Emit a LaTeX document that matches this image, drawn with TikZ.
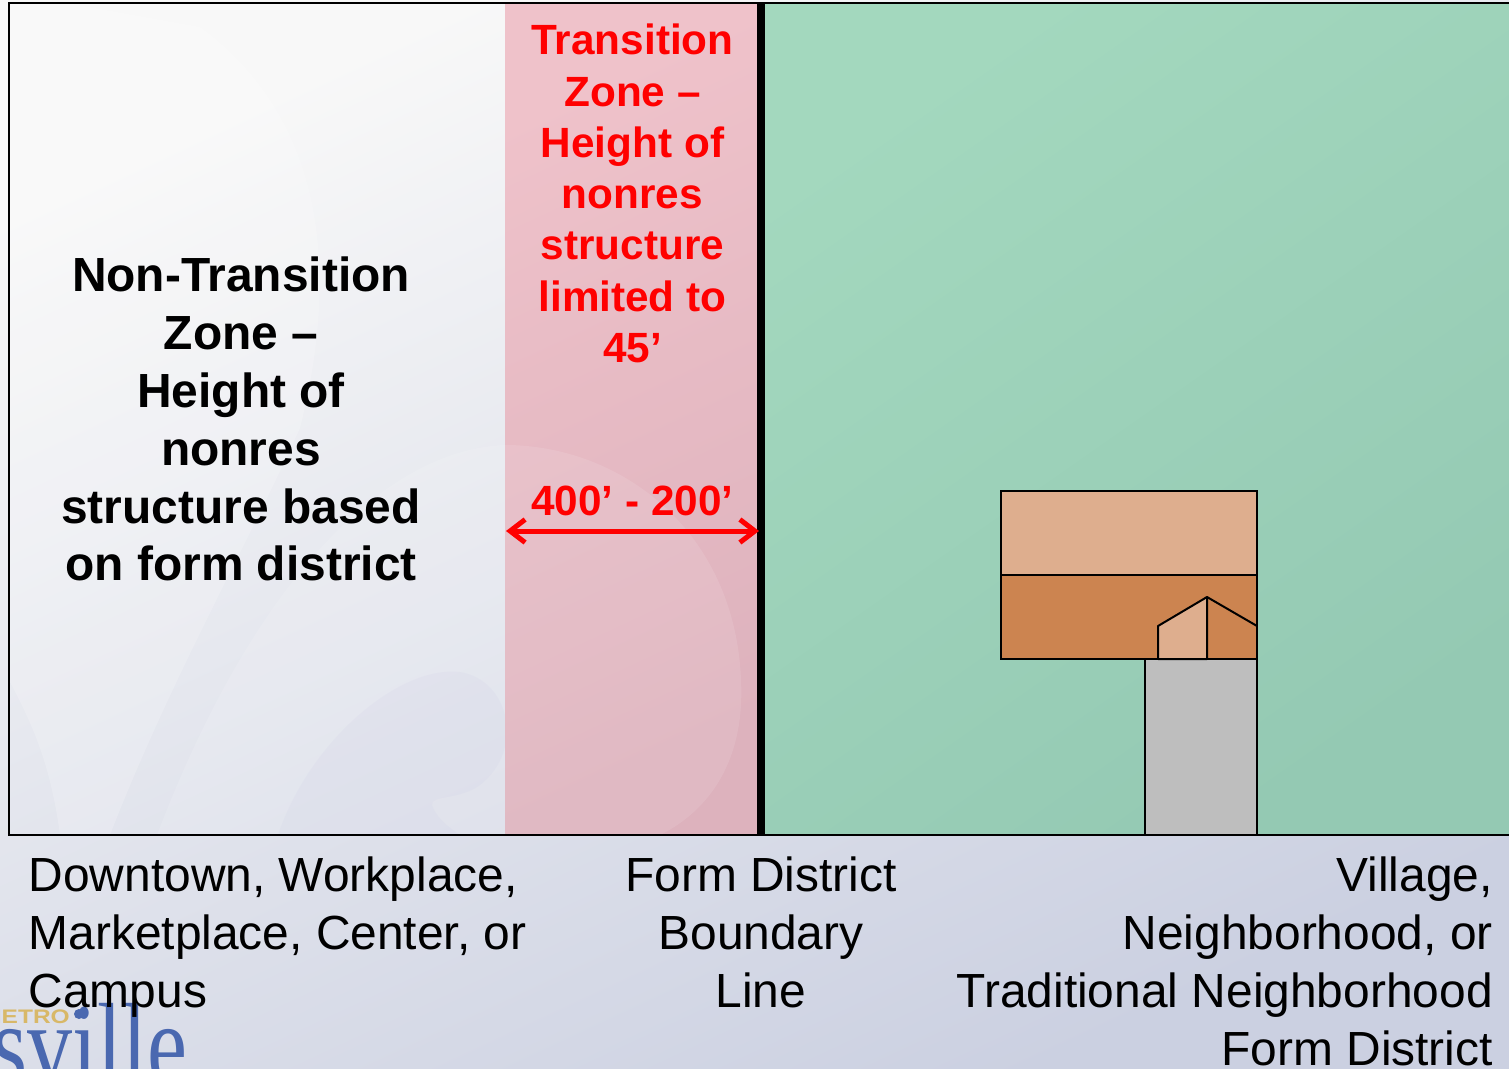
\documentclass[tikz,border=0pt]{standalone}
\usepackage{fontspec}
\setmainfont{Liberation Sans}
\newfontfamily\logofont{Liberation Serif}
\usetikzlibrary{arrows.meta}
\definecolor{pinkA}{HTML}{EFC2CA}
\definecolor{pinkB}{HTML}{DDB2BD}
\definecolor{greenA}{HTML}{A3D8BE}
\definecolor{greenB}{HTML}{94C9B3}
\definecolor{tanL}{HTML}{DEAE8E}
\definecolor{tanD}{HTML}{CC8450}
\definecolor{roadgrey}{HTML}{BEBEBE}
\definecolor{logoblue}{HTML}{4A68B0}
\definecolor{logogold}{HTML}{D8B868}
\definecolor{bgA}{HTML}{F8F8F8}
\definecolor{bgM}{HTML}{E9EBF1}
\definecolor{bgB}{HTML}{CBD0E1}
\tikzset{
  x=1pt,y=-1pt,
  outline/.style={draw=black,line width=2pt},
  blocktext/.style={inner sep=0pt,font=\fontsize{47.9}{57.8}\selectfont},
  labelblack/.style={inner sep=0pt,align=center,font=\fontsize{47.9}{57.8}\selectfont\bfseries},
  labelred/.style={inner sep=0pt,text=red,align=center,font=\fontsize{42.3}{51.25}\selectfont\bfseries},
  swirl/.style={fill=white,fill opacity=.18,draw=none},
  swirldark/.style={fill=black!40!blue!30,fill opacity=.08,draw=none},
  dimarrow/.style={red,line width=5pt,{Straight Barb[length=15pt,width=23pt,line width=5pt]}-{Straight Barb[length=15pt,width=23pt,line width=5pt]}},
}
\begin{document}
\begin{tikzpicture}
\useasboundingbox (0,0) rectangle (1509,1068);
\clip (0,0) rectangle (1509,1068);
% slide background
\shade[shading=axis,top color=bgA,middle color=bgM,bottom color=bgB,shading angle=25] (0,0) rectangle (1509,1068);
% faint watermark
\path[swirl] (50,0) -- (200,27) .. controls (300,100) and (350,230) .. (300,428) .. controls (250,540) and (170,680) .. (110,835) -- (60,835) .. controls (50,760) and (30,720) .. (9,680) -- (9,0) -- cycle;
\path[swirl,fill opacity=.12] (505,445) .. controls (380,450) and (250,590) .. (157,835) -- (505,835) -- cycle;
\path[swirldark] (278,835) .. controls (310,740) and (400,665) .. (460,672) .. controls (510,680) and (525,750) .. (480,785) .. controls (460,800) and (430,795) .. (432,805) .. controls (435,815) and (445,825) .. (460,835) -- cycle;
% zones
\shade[shading=axis,top color=pinkA,bottom color=pinkB,shading angle=25] (505,3) rectangle (757,835);
\path[swirl,fill opacity=.10] (505,445) .. controls (620,445) and (735,530) .. (741,680) .. controls (745,760) and (710,810) .. (660,835) -- (505,835) -- cycle;
\shade[shading=axis,top color=greenA,bottom color=greenB,shading angle=35] (765,3) rectangle (1509,835);
\fill[black] (757,3) rectangle (765,835);
\draw[outline] (1510,3) -- (9,3) -- (9,835) -- (1510,835);
% building
\draw[outline,fill=roadgrey] (1145,659) rectangle (1257,835);
\draw[outline,fill=tanL] (1001,491) rectangle (1257,575);
\draw[outline,fill=tanD] (1001,575) rectangle (1257,659);
\draw[outline,fill=tanL,line join=round] (1158,659) -- (1158,626) -- (1207,597) -- (1207,659) -- cycle;
\draw[outline,line join=round] (1207,597) -- (1257,626);
% text
\node[labelblack,anchor=north] (nontransition) at (241,257) {Non-Transition\\Zone --\\Height of\\nonres\\structure based\\on form district};
\node[labelred,anchor=north] (transition) at (632.5,24) {Transition\\Zone --\\Height of\\nonres\\structure\\limited to\\45’};
\node[labelred,anchor=base] (dimension) at (632.5,515) {400’ - 200’};
\coordinate (arrowL) at (506,531);
\coordinate (arrowR) at (759,531);
\draw[dimarrow] (arrowL) -- (arrowR);
% logo
\node[inner sep=0pt,anchor=base east,text=logogold,yscale=.8,font=\fontsize{24.5}{24.5}\selectfont\bfseries] (logotop) at (70,1023) {METRO};
\fill[logoblue] (79,1014) circle (5);
\node[inner sep=0pt,anchor=base west,text=logoblue,yscale=1.3,font=\fontsize{90}{90}\selectfont\logofont] (logoword) at (-8,1084) {sville};
% captions
\node[blocktext,anchor=north west,align=left] (caption1) at (28.5,857) {Downtown, Workplace,\\Marketplace, Center, or\\Campus};
\node[blocktext,anchor=north,align=center] (caption2) at (761,857) {Form District\\Boundary\\Line};
\node[blocktext,anchor=north east,align=right] (caption3) at (1493,857) {Village,\\Neighborhood, or\\Traditional Neighborhood\\Form District};
\end{tikzpicture}
\end{document}
